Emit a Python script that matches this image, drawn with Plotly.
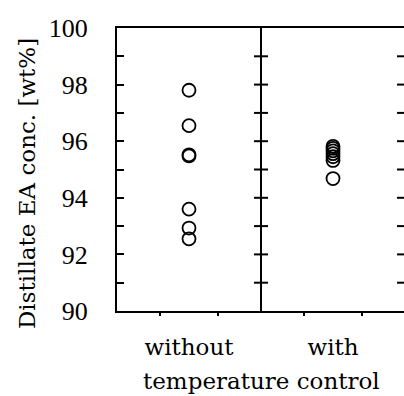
import plotly.graph_objects as go

# ---- data ----
groups = ["without", "with"]
group_x = [1, 2]
without_vals = [97.8, 96.55, 95.52, 95.48, 93.6, 92.93, 92.55]
with_vals = [95.82, 95.75, 95.66, 95.56, 95.45, 95.32, 94.68]
y_ticks = [90, 91, 92, 93, 94, 95, 96, 97, 98, 99, 100]
y_ticktext = ["90", "", "92", "", "94", "", "96", "", "98", "", "100"]
x_minor_ticks = [0.8, 1.2, 1.8, 2.2]
divider_x = 1.5
right_edge_x = 2.5
y_title = "Distillate EA conc. [wt%]"
x_title = "temperature control"

FONT_TXT = "DejaVu Serif"
FONT_NUM = "Liberation Serif"

fig = go.Figure()
for gx, vals in zip(group_x, [without_vals, with_vals]):
    fig.add_trace(go.Scatter(
        x=[gx] * len(vals), y=vals, mode="markers",
        marker=dict(symbol="circle-open", size=13, color="black",
                    line=dict(width=1.8, color="black")),
        showlegend=False, cliponaxis=False))

shapes = []
# divider line
shapes.append(dict(type="line", xref="x", yref="paper", x0=divider_x, x1=divider_x,
                   y0=0, y1=1, line=dict(color="black", width=2)))
dx_div = 7 / 144.0
dx_edge = 8 / 144.0
for yv in y_ticks[1:-1]:
    shapes.append(dict(type="line", xref="x", yref="y", x0=divider_x - dx_div,
                       x1=divider_x + dx_div, y0=yv, y1=yv,
                       line=dict(color="black", width=2)))
    shapes.append(dict(type="line", xref="x", yref="y", x0=right_edge_x - dx_edge,
                       x1=right_edge_x + dx_edge, y0=yv, y1=yv,
                       line=dict(color="black", width=2)))

fig.update_layout(
    width=404, height=396,
    margin=dict(l=117, r=0, t=28, b=85, pad=0),
    paper_bgcolor="white", plot_bgcolor="white",
    shapes=shapes,
    xaxis=dict(range=[0.5, 2.493], showgrid=False, zeroline=False,
               showline=True, linecolor="black", linewidth=2, mirror=True,
               tickvals=group_x, ticktext=groups, ticks="", ticklen=0,
               ticklabelstandoff=14,
               tickfont=dict(family=FONT_TXT, size=23, color="black"),
               minor=dict(tickvals=x_minor_ticks, ticks="outside", ticklen=3,
                          tickwidth=1.5, tickcolor="black")),
    yaxis=dict(range=[90, 100], showgrid=False, zeroline=False,
               showline=True, linecolor="black", linewidth=2, mirror=False,
               tickvals=y_ticks, ticktext=y_ticktext, ticks="inside",
               ticklen=7, tickwidth=2, tickcolor="black",
               ticklabelstandoff=22,
               tickfont=dict(family=FONT_NUM, size=26, color="black")),
    annotations=[
        dict(text=y_title, xref="paper", yref="paper", x=-0.3136, y=0.452,
             textangle=-90, showarrow=False, xanchor="center", yanchor="middle",
             font=dict(family=FONT_TXT, size=23, color="black")),
        dict(text=x_title, xref="x", yref="paper", x=divider_x, y=-0.247,
             showarrow=False, xanchor="center", yanchor="middle",
             font=dict(family=FONT_TXT, size=23, color="black")),
    ],
)

fig.write_html("out.html")
